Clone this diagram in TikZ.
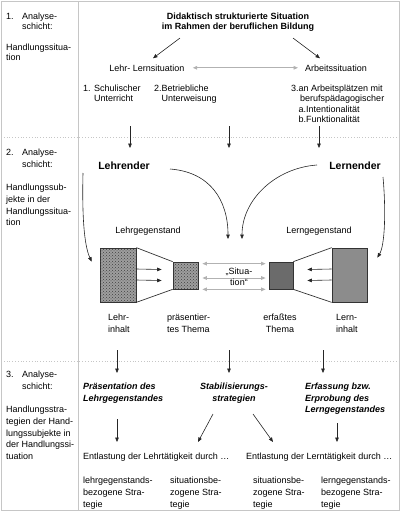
\documentclass[tikz,border=0pt]{standalone}
\usepackage{fontspec}
\setmainfont{Liberation Sans}
\usetikzlibrary{arrows.meta,patterns}

\begin{document}
\begin{tikzpicture}[x=1pt,y=-1pt]
	\tikzstyle{txt}=[inner sep=0pt,align=left,anchor=north west,font=\fontsize{9}{11.7}\selectfont]
	\tikzstyle{tight}=[txt,font=\fontsize{9}{10.2}\selectfont]
	\tikzstyle{head}=[inner sep=0pt,align=center,anchor=north,font=\fontsize{9}{10.2}\selectfont\bfseries]
	\tikzstyle{actor}=[inner sep=0pt,font=\fontsize{10.5}{12}\selectfont\bfseries]
	\tikzstyle{strat}=[txt,font=\fontsize{9}{11.5}\selectfont\bfseries\itshape]
	\tikzstyle{frame}=[draw=gray!45,line width=0.8pt]
	\tikzstyle{layer}=[draw=gray!45,line width=0.8pt,dotted]
	\tikzstyle{arr}=[draw=black!85,line width=0.6pt,-{Triangle[length=4.5pt,width=3.6pt]}]
	\tikzstyle{garr}=[draw=gray!60,line width=0.9pt,{Triangle[length=4.5pt,width=3.6pt]}-{Triangle[length=4.5pt,width=3.6pt]}]
	\tikzstyle{bigbox}=[draw=black!80,line width=0.7pt,inner sep=0pt,minimum width=36pt,minimum height=54pt]
	\tikzstyle{smallbox}=[bigbox,minimum width=25pt,minimum height=27pt]
	\tikzstyle{grain}=[fill=black!38,postaction={pattern=crosshatch dots,pattern color=black!75}]
	\useasboundingbox (0,0) rectangle (400,512);
	\draw[frame] (1,1) rectangle (399,510);
	\draw[frame] (78,1) -- (78,510);
	\draw[layer] (1,137) -- (399,137);
	\draw[layer] (1,361) -- (399,361);

	\node[tight](n1) at (6,13) {1.};
	\node[tight](a1) at (22,13) {Analyse-\\schicht:};
	\node[tight](h1) at (6,44) {Handlungssitua-\\tion};
	\node[txt](n2) at (6,149) {2.};
	\node[txt](a2) at (22,149) {Analyse-\\schicht:};
	\node[txt](h2) at (6,184) {Handlungssub-\\jekte in der\\Handlungssitua-\\tion};
	\node[txt](n3) at (6,371) {3.};
	\node[txt](a3) at (22,371) {Analyse-\\schicht:};
	\node[txt](h3) at (6,406) {Handlungsstra-\\tegien der Hand-\\lungssubjekte in\\der Handlungssi-\\tuation};

	\node[head](title) at (238,13) {Didaktisch strukturierte Situation\\im Rahmen der beruflichen Bildung};
	\node[tight,anchor=base](ll) at (147,71) {Lehr- Lernsituation};
	\node[tight,anchor=base](arb) at (336,71) {Arbeitssituation};
	\node[tight](sch) at (83,85) {1. Schulischer\\\hphantom{1. }Unterricht};
	\node[tight](betr) at (154,85) {2.Betriebliche\\\hphantom{2.}Unterweisung};
	\node[tight](arbpl) at (291,85) {3.an Arbeitsplätzen mit\\\hphantom{3.}\,berufspädagogischer\\\hphantom{3.}a.Intentionalität\\\hphantom{3.}b.Funktionalität};
	\draw[arr] ([shift={(-58,6)}]title.south) -- ([shift={(6,-6)}]ll.north);
	\draw[arr] ([shift={(55,6)}]title.south) -- ([shift={(-16,-6)}]arb.north);
	\draw[garr,shorten <=8pt,shorten >=7pt] (ll) -- (arb);

	\coordinate (s1a) at (130,126); \coordinate (s1b) at (130,148);
	\coordinate (s2a) at (229,126); \coordinate (s2b) at (229,148);
	\coordinate (s3a) at (319,126); \coordinate (s3b) at (319,148);
	\draw[arr] (s1a) -- (s1b);
	\draw[arr] (s2a) -- (s2b);
	\draw[arr] (s3a) -- (s3b);

	\node[actor](lehrender) at (124,166) {Lehrender};
	\node[actor](lernender) at (355,166) {Lernender};
	\node[txt,anchor=base](lehrgeg) at (148,233) {Lehrgegenstand};
	\node[txt,anchor=base](lerngeg) at (319,233) {Lerngegenstand};

	\node[bigbox,grain](lbig) at (118,275) {};
	\node[smallbox,grain](lsmall) at (185.5,275.5) {};
	\node[smallbox,minimum width=24pt,fill=black!58](rsmall) at (281,275.5) {};
	\node[bigbox,minimum width=35pt,fill=black!45](rbig) at (349.5,275) {};
	\draw[black!80,line width=0.7pt] (lbig.north east) -- (lsmall.north west);
	\draw[black!80,line width=0.7pt] (lbig.south east) -- (lsmall.south west);
	\draw[black!80,line width=0.7pt] (rbig.north west) -- (rsmall.north east);
	\draw[black!80,line width=0.7pt] (rbig.south west) -- (rsmall.south east);
	\draw[arr] ([shift={(0,-6)}]lbig.east) -- ([shift={(-11,-6)}]lsmall.west);
	\draw[arr] ([shift={(0,5)}]lbig.east) -- ([shift={(-11,5)}]lsmall.west);
	\draw[arr] ([shift={(0,-6)}]rbig.west) -- ([shift={(14,-6)}]rsmall.east);
	\draw[arr] ([shift={(0,5)}]rbig.west) -- ([shift={(14,5)}]rsmall.east);
	\draw[garr] ([shift={(4,2)}]lsmall.north east) -- ([shift={(-3,2)}]rsmall.north west);
	\draw[garr] ([shift={(4,2.5)}]lsmall.east) -- ([shift={(-3,2.5)}]rsmall.west);
	\draw[garr] ([shift={(4,0)}]lsmall.south east) -- ([shift={(-3,0)}]rsmall.south west);
	\node[inner sep=0pt,align=center,font=\fontsize{9}{11}\selectfont](sit) at (239,277) {„Situa-\\tion“};

	\coordinate (lehrA) at (83,173);
	\coordinate (lehrB) at (170,169);
	\coordinate (lernA) at (317,165);
	\coordinate (lernB) at (383,177);
	\coordinate (sitL) at (228,239);
	\coordinate (sitR) at (242,239);
	\draw[arr] (lehrA) .. controls (82,215) and (84,245) .. ([shift={(-8,14)}]lbig.north west);
	\draw[arr] (lehrB) .. controls (210,172) and (228,200) .. (sitL);
	\draw[arr] (lernA) .. controls (275,168) and (242,200) .. (sitR);
	\draw[arr] (lernB) .. controls (386,210) and (385,245) .. ([shift={(10,10)}]rbig.north east);

	\node[txt](lehrinh) at (108,314) {Lehr-\\inhalt};
	\node[txt](praesth) at (167,314) {präsentier-\\tes Thema};
	\node[txt,anchor=north,align=center](erfth) at (280,314) {erfaßtes\\Thema};
	\node[txt](lerninh) at (336,314) {Lern-\\inhalt};

	\coordinate (t1a) at (117,350); \coordinate (t1b) at (117,373);
	\coordinate (t2a) at (229,350); \coordinate (t2b) at (229,373);
	\coordinate (t3a) at (323,350); \coordinate (t3b) at (323,373);
	\draw[arr] (t1a) -- (t1b);
	\draw[arr] (t2a) -- (t2b);
	\draw[arr] (t3a) -- (t3b);

	\node[strat](praes) at (83,383) {Präsentation des\\Lehrgegenstandes};
	\node[strat,anchor=north,align=center](stab) at (234,383) {Stabilisierungs-\\strategien};
	\node[strat](erf) at (305,383) {Erfassung bzw.\\Erprobung des\\Lerngegenstandes};

	\coordinate (u1a) at (117,419); \coordinate (u1b) at (117,442);
	\coordinate (u2a) at (213,414); \coordinate (u2b) at (198,442);
	\coordinate (u3a) at (253,414); \coordinate (u3b) at (273,442);
	\coordinate (u4a) at (337,423); \coordinate (u4b) at (337,442);
	\draw[arr] (u1a) -- (u1b);
	\draw[arr] (u2a) -- (u2b);
	\draw[arr] (u3a) -- (u3b);
	\draw[arr] (u4a) -- (u4b);

	\node[txt](entl1) at (83,453) {Entlastung der Lehrtätigkeit durch …};
	\node[txt](entl2) at (246,453) {Entlastung der Lerntätigkeit durch …};
	\node[txt](str1) at (83,477) {lehrgegenstands-\\bezogene Stra-\\tegie};
	\node[txt](str2) at (170,477) {situationsbe-\\zogene Stra-\\tegie};
	\node[txt](str3) at (253,477) {situationsbe-\\zogene Stra-\\tegie};
	\node[txt](str4) at (321,477) {lerngegenstands-\\bezogene Stra-\\tegie};
\end{tikzpicture}
\end{document}
